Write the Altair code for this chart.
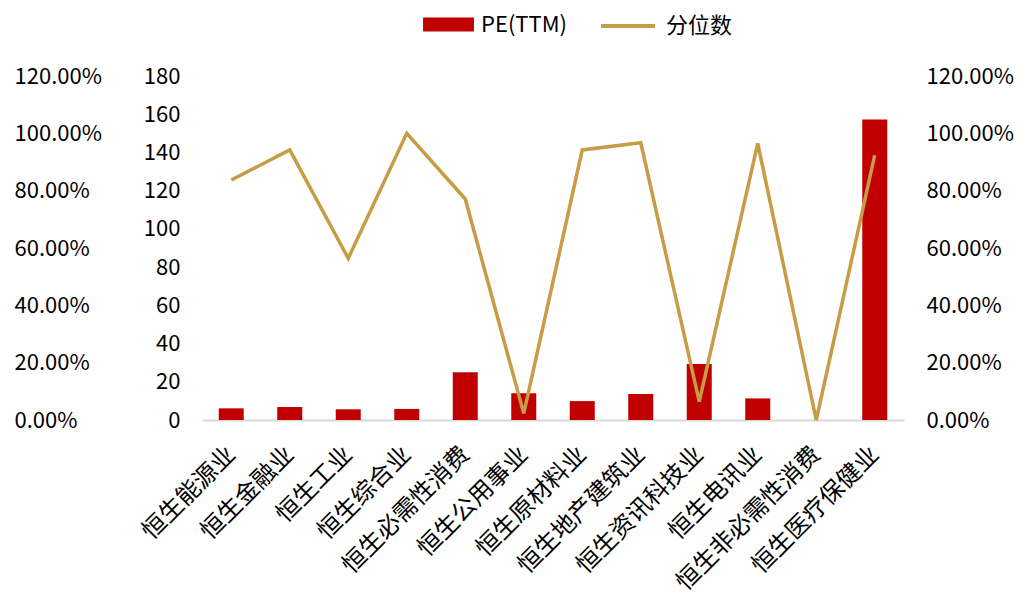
import altair as alt
import pandas as pd

categories = ["恒生能源业", "恒生金融业", "恒生工业", "恒生综合业", "恒生必需性消费", "恒生公用事业",
              "恒生原材料业", "恒生地产建筑业", "恒生资讯科技业", "恒生电讯业", "恒生非必需性消费", "恒生医疗保健业"]
pe_ttm = [6.1, 6.8, 5.6, 5.8, 25.0, 14.0, 9.9, 13.6, 29.3, 11.3, 0.0, 157.3]
percentile = [0.837, 0.942, 0.564, 1.000, 0.771, 0.023, 0.942, 0.967, 0.064, 0.965, 0.0, 0.924]

bar_name = "PE(TTM)"
line_name = "分位数"

df = pd.DataFrame({
    "cat": categories,
    "pe": pe_ttm,
    "pct": percentile,
    "s_bar": [bar_name] * len(categories),
    "s_line": [line_name] * len(categories),
})

FONT = "Noto Sans CJK SC"
RED = "#C00000"
GOLD = "#C89B45"

x_enc = alt.X("cat:N", sort=categories, title=None,
              scale=alt.Scale(paddingInner=0.0, paddingOuter=0.0),
              axis=alt.Axis(labelAngle=-45, labelFontSize=24, labelFont=FONT, labelColor="#000000",
                            domainColor="#D9D9D9", domainWidth=2, ticks=False, labelPadding=22,
                            labelOffset=-8, labelLimit=300))

base = alt.Chart(df)

bars = base.mark_bar(size=25, color=RED).encode(
    x=x_enc,
    y=alt.Y("pe:Q", title=None,
            scale=alt.Scale(domain=[0, 180], nice=False, zero=True),
            axis=alt.Axis(orient="left", values=list(range(0, 181, 20)), grid=False, domain=False,
                          ticks=False, labelPadding=22, labelFontSize=22, labelFont=FONT,
                          labelColor="#000000")),
    color=alt.Color("s_bar:N", scale=alt.Scale(domain=[bar_name], range=[RED]),
                    legend=alt.Legend(title=None, orient="none", legendX=232, legendY=-66,
                                      symbolType="M-1.8,-0.5H1.8V0.5H-1.8Z", symbolSize=800,
                                      symbolStrokeWidth=0, symbolOpacity=1,
                                      labelFontSize=22, labelFont=FONT, labelColor="#000000",
                                      labelOffset=18, padding=0)),
)

line = base.mark_line(strokeWidth=3.5, color=GOLD).encode(
    x=x_enc,
    y=alt.Y("pct:Q", title=None,
            scale=alt.Scale(domain=[0, 1.2], nice=False),
            axis=alt.Axis(orient="right", format=".2%", values=[0, 0.2, 0.4, 0.6, 0.8, 1.0, 1.2],
                          grid=False, domain=False, ticks=False, labelPadding=22,
                          labelFontSize=22, labelFont=FONT, labelColor="#000000")),
    color=alt.Color("s_line:N", scale=alt.Scale(domain=[line_name], range=[GOLD]),
                    legend=alt.Legend(title=None, orient="none", legendX=397, legendY=-79,
                                      symbolType="M-1,0H1", symbolSize=2916, symbolStrokeWidth=4,
                                      labelFontSize=22, labelFont=FONT, labelColor="#000000",
                                      labelOffset=9, padding=0)),
)

line_left_axis = base.mark_line(opacity=0).encode(
    x=x_enc,
    y=alt.Y("pct:Q", title=None,
            scale=alt.Scale(domain=[0, 1.2], nice=False),
            axis=alt.Axis(orient="left", format=".2%", values=[0, 0.2, 0.4, 0.6, 0.8, 1.0, 1.2],
                          grid=False, domain=False, ticks=False, labelPadding=188,
                          labelAlign="left", labelFontSize=22, labelFont=FONT,
                          labelColor="#000000")),
)

chart = alt.layer(bars, line, line_left_axis).resolve_scale(
    y="independent", color="independent"
).resolve_legend(color="independent").properties(
    width=702, height=344,
    autosize=alt.AutoSizeParams(type="none"),
    padding={"left": 202, "top": 76, "right": 117, "bottom": 180},
    background="white",
).configure_view(stroke=None)

chart.save("out.html", embed_options={"renderer": "svg", "actions": False})
